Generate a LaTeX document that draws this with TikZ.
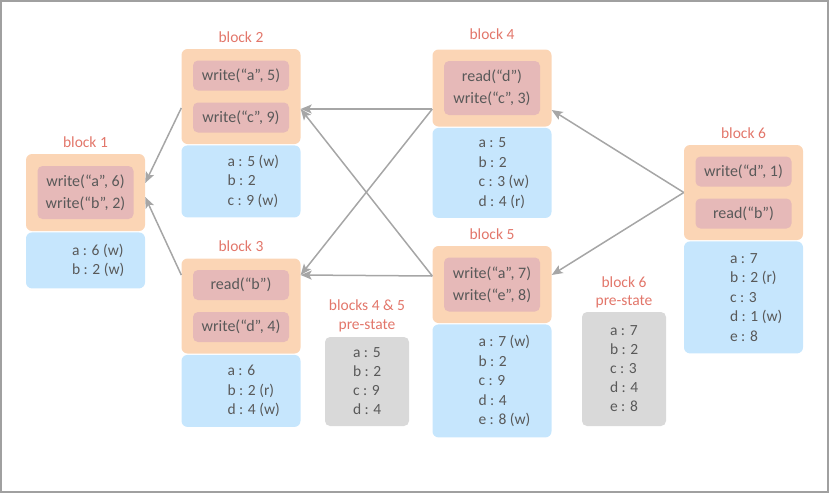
\documentclass[tikz,border=0pt]{standalone}
\usepackage{fontspec}
\setmainfont{Carlito}
\usepackage{tikz}
\usetikzlibrary{positioning,arrows.meta}
\definecolor{peach}{HTML}{FBD5B5}
\definecolor{rose}{HTML}{E6B9B8}
\definecolor{sky}{HTML}{C6E6FD}
\definecolor{pale}{HTML}{D9D9D9}
\definecolor{ink}{HTML}{595959}
\definecolor{blocktitle}{HTML}{E2766A}
\definecolor{arrowgray}{HTML}{A6A6A6}
\definecolor{frame}{HTML}{A0A0A0}

\begin{document}
\begin{tikzpicture}[x=1pt,y=-1pt,node distance=1pt,
 blk/.style={fill=peach,rounded corners=6pt,minimum width=119pt,inner sep=0pt},
 op/.style={fill=rose,rounded corners=5pt,minimum width=96pt,inner sep=0pt,text=ink,align=center,font=\fontsize{16}{22}\selectfont},
 st/.style={fill=sky,rounded corners=6pt,minimum width=119pt,inner sep=0pt},
 prebox/.style={fill=pale,rounded corners=5pt,minimum width=84pt,inner sep=0pt},
 vals/.style={anchor=west,inner sep=0pt,text=ink,align=left,font=\fontsize{15.5}{19.5}\selectfont},
 ttl/.style={text=blocktitle,inner sep=0pt,align=center,font=\fontsize{15.5}{18.5}\selectfont},
 dep/.style={draw=arrowgray,line width=1.5pt,-{Stealth[length=11pt,width=9pt,inset=2.5pt]}}]
%\draw[help lines](0,0)grid(829,493);
\useasboundingbox (0,0) rectangle (829,493);
\draw[frame,line width=1.5pt] (1,1) rectangle (828,492);

% block 1
\node[blk,minimum height=77pt] (b1) at (85.5,192.5) {};
\node[op,minimum height=53pt] (o1) at (b1) {write(“a”, 6)\\write(“b”, 2)};
\node[st,minimum height=56pt,below=of b1] (s1) {};
\node[vals] (v1) at ([xshift=46pt]s1.west) {a : 6 (w)\\b : 2 (w)};
\node[ttl] (l1) at (85.5,142) {block 1};

% block 2
\node[blk,minimum height=95pt] (b2) at (241,96.5) {};
\node[op,minimum height=30pt] (o2a) at (241,75.5) {write(“a”, 5)};
\node[op,minimum height=30pt] (o2b) at (241,117.5) {write(“c”, 9)};
\node[st,minimum height=72pt,below=of b2] (s2) {};
\node[vals] (v2) at ([xshift=46pt]s2.west) {a : 5 (w)\\b : 2\\c : 9 (w)};
\node[ttl] (l2) at (241,37) {block 2};

% block 3
\node[blk,minimum height=95pt] (b3) at (241,306) {};
\node[op,minimum height=30pt] (o3a) at (241,285) {read(“b”)};
\node[op,minimum height=30pt] (o3b) at (241,327) {write(“d”, 4)};
\node[st,minimum height=72pt,below=of b3] (s3) {};
\node[vals] (v3) at ([xshift=46pt]s3.west) {a : 6\\b : 2 (r)\\d : 4 (w)};
\node[ttl] (l3) at (241,246) {block 3};

% block 4
\node[blk,minimum height=77pt] (b4) at (492,88) {};
\node[op,minimum height=54pt] (o4) at (b4) {read(“d”)\\write(“c”, 3)};
\node[st,minimum height=90pt,below=of b4] (s4) {};
\node[vals] (v4) at ([xshift=46pt]s4.west) {a : 5\\b : 2\\c : 3 (w)\\d : 4 (r)};
\node[ttl] (l4) at (492,34) {block 4};

% block 5
\node[blk,minimum height=77pt] (b5) at (492,284.5) {};
\node[op,minimum height=54pt] (o5) at (b5) {write(“a”, 7)\\write(“e”, 8)};
\node[st,minimum height=113pt,below=of b5] (s5) {};
\node[vals] (v5) at ([xshift=46pt]s5.west) {a : 7 (w)\\b : 2\\c : 9\\d : 4\\e : 8 (w)};
\node[ttl] (l5) at (492,234) {block 5};

% block 6
\node[blk,minimum height=95pt] (b6) at (743.5,192.5) {};
\node[op,minimum height=30pt] (o6a) at (743.5,171.5) {write(“d”, 1)};
\node[op,minimum height=30pt] (o6b) at (743.5,213.5) {read(“b”)};
\node[st,minimum height=112pt,below=of b6] (s6) {};
\node[vals] (v6) at ([xshift=46pt]s6.west) {a : 7\\b : 2 (r)\\c : 3\\d : 1 (w)\\e : 8};
\node[ttl] (l6) at (743.5,133) {block 6};

% pre-states
\node[prebox,minimum height=89pt] (p45) at (367,381.5) {};
\node[vals,font=\fontsize{15.5}{19}\selectfont] (q45) at ([xshift=28pt]p45.west) {a : 5\\b : 2\\c : 9\\d : 4};
\node[ttl] (m45) at (367,316) {blocks 4 \& 5\\pre-state};
\node[prebox,minimum height=114pt] (p6) at (624,369) {};
\node[vals,font=\fontsize{15.5}{19}\selectfont] (q6) at ([xshift=28pt]p6.west) {a : 7\\b : 2\\c : 3\\d : 4\\e : 8};
\node[ttl] (m6) at (624,292.5) {block 6\\pre-state};

% dependencies
\draw[dep] ([yshift=-11.5pt]b2.west) -- ([yshift=9.5pt]b1.east);
\draw[dep] ([yshift=31pt]b3.west) -- ([yshift=-4.5pt]b1.east);
\draw[dep] ([yshift=-21pt]b4.west) -- ([yshift=-12.5pt]b2.east);
\draw[dep] ([yshift=-21pt]b4.west) -- ([yshift=31pt]b3.east);
\draw[dep] ([yshift=8.5pt]b5.west) -- ([yshift=-12.5pt]b2.east);
\draw[dep] ([yshift=8.5pt]b5.west) -- ([yshift=31pt]b3.east);
\draw[dep] (b6.west) -- ([yshift=-22pt]b4.east);
\draw[dep] (b6.west) -- ([yshift=9.5pt]b5.east);
\end{tikzpicture}
\end{document}
